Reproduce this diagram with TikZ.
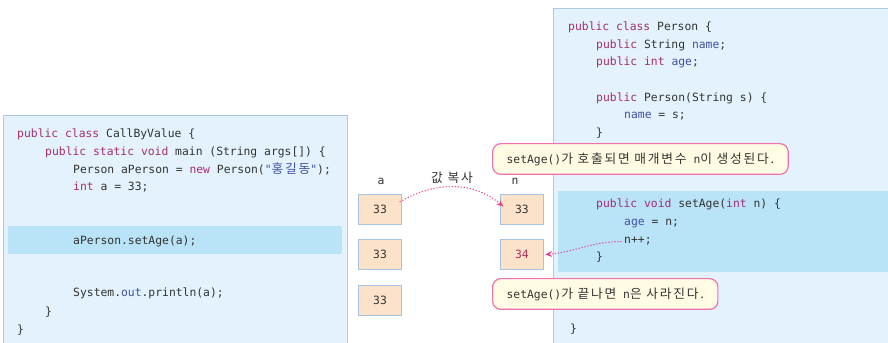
\documentclass[tikz,border=0pt]{standalone}
\usepackage{fontspec}
\setmonofont{DejaVu Sans Mono}
\newfontfamily\cjk[Scale=1.12,LetterSpace=14]{Noto Sans CJK KR}
\usetikzlibrary{positioning,arrows.meta}

\definecolor{panelbg}{HTML}{E3F2FC}
\definecolor{panelline}{HTML}{A9CBE8}
\definecolor{hiband}{HTML}{B9E3F7}
\definecolor{codetxt}{HTML}{333333}
\definecolor{keyword}{HTML}{A22F72}
\definecolor{fieldblue}{HTML}{4052A4}
\definecolor{valfill}{HTML}{FCE2C8}
\definecolor{valline}{HTML}{A7C3E2}
\definecolor{notefill}{HTML}{FFFCE3}
\definecolor{notepink}{HTML}{F06FB0}
\definecolor{arrowpink}{HTML}{E8408C}
\definecolor{numred}{HTML}{B0305E}

\newcommand{\kw}[1]{\textcolor{keyword}{#1}}
\newcommand{\fld}[1]{\textcolor{fieldblue}{#1}}

\tikzset{
  panel/.style={draw=panelline,fill=panelbg,line width=0.8pt},
  hilite/.style={fill=hiband},
  code/.style={anchor=base west,inner sep=0pt,text=codetxt,
    font=\ttfamily\fontsize{9.7}{11}\selectfont},
  valbox/.style={draw=valline,fill=valfill,line width=0.8pt,inner sep=0pt,
    minimum width=1.29cm,minimum height=0.9cm,text=codetxt,
    font=\ttfamily\fontsize{9.7}{11}\selectfont},
  varname/.style={inner sep=0pt,text=codetxt,
    font=\ttfamily\fontsize{9.7}{11}\selectfont},
  note/.style={draw=notepink,fill=notefill,line width=1pt,rounded corners=7pt,
    anchor=west,inner xsep=0.42cm,minimum height=0.92cm,text=codetxt,
    font=\ttfamily\fontsize{9.7}{11}\selectfont},
  copyarrow/.style={draw=arrowpink,line width=0.9pt,dash pattern=on 1pt off 1.6pt,
    -{Stealth[length=6pt,width=5pt,fill=arrowpink]}}
}

\begin{document}
\begin{tikzpicture}[x=0.03cm,y=0.03cm,node distance=0.44cm]
  \clip (0,0) rectangle (888,343);

  % the two code panels
  \draw[panel] (3,228) rectangle (347,-10);
  \fill[hilite] (8,117) rectangle (342,89);
  \draw[panel] (553,335) rectangle (895,-10);
  \fill[hilite] (558,152) rectangle (895,71);

  % CallByValue
  \node[code] (l1) at (17,205) {\kw{public class} CallByValue \{};
  \node[code] (l2) at (45,187) {\kw{public static void} main (String args[]) \{};
  \node[code] (l3) at (73,169) {Person aPerson = \kw{new} Person(\fld{"{\cjk 홍길동}"});};
  \node[code] (l4) at (73,152) {\kw{int} a = 33;};
  \node[code] (l5) at (73,98)  {aPerson.setAge(a);};
  \node[code] (l6) at (73,46)  {System.\fld{out}.println(a);};
  \node[code] (l7) at (45,27)  {\}};
  \node[code] (l8) at (17,9)   {\}};

  % Person
  \node[code] (r1)  at (568,312) {\kw{public class} Person \{};
  \node[code] (r2)  at (596,294) {\kw{public} String \fld{name};};
  \node[code] (r3)  at (596,277) {\kw{public int} \fld{age};};
  \node[code] (r4)  at (596,241) {\kw{public} Person(String s) \{};
  \node[code] (r5)  at (624,224) {\fld{name} = s;};
  \node[code] (r6)  at (596,206) {\}};
  \node[code] (r7)  at (596,135) {\kw{public void} setAge(\kw{int} n) \{};
  \node[code] (r8)  at (624,117) {\fld{age} = n;};
  \node[code] (npp) at (624,99)  {n++;};
  \node[code] (r10) at (596,82)  {\}};
  \node[code] (r11) at (570,10)  {\}};

  % values on the stack
  \node[valbox] (a1) at (380,134) {33};
  \node[valbox] (a2) [below=of a1] {33};
  \node[valbox] (a3) [below=of a2] {33};
  \node[valbox] (n1) [right=2.94cm of a1] {33};
  \node[valbox] (n2) [below=of n1] {\textcolor{numred}{34}};

  \node[varname] (la) at (381,162) {a};
  \node[varname] (ln) at (515,162) {n};
  \node[varname] (lcopy) at (452,165) {\cjk 값 복사};

  % callouts
  \node[note] (c1) at (492,184) {setAge(){\cjk 가 호출되면 매개변수} n{\cjk 이 생성된다.}};
  \node[note] (c2) at (492,49) {setAge(){\cjk 가 끝나면} n{\cjk 은 사라진다.}};

  \draw[copyarrow] ([xshift=-2pt,yshift=6pt]a1.east) to[out=30,in=140] ([xshift=3pt,yshift=2pt]n1.west);
  \draw[copyarrow] ([xshift=-2pt]npp.west) to[out=180,in=5] ([xshift=1pt]n2.east);
\end{tikzpicture}
\end{document}
